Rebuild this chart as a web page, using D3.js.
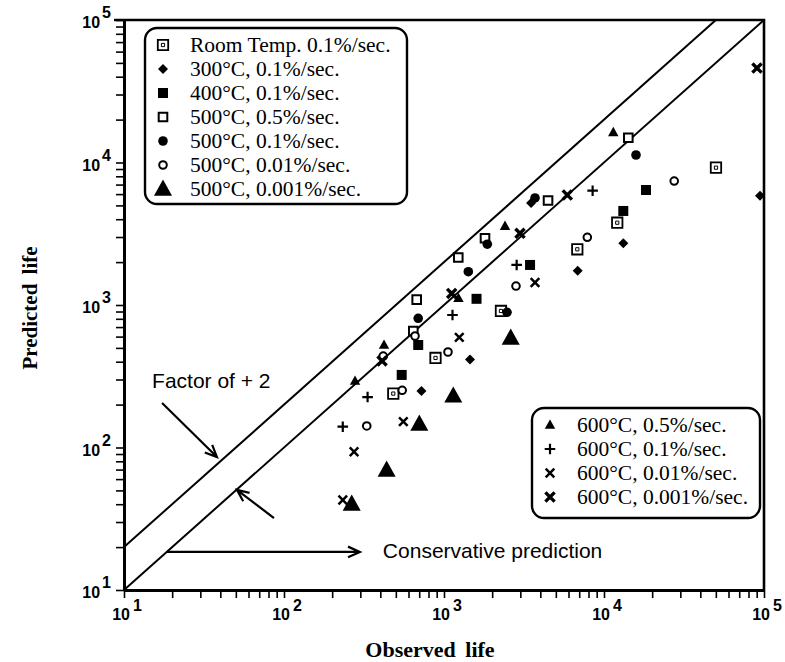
<!DOCTYPE html>
<html>
<head>
<meta charset="utf-8">
<script src="https://cdn.jsdelivr.net/npm/d3@7"></script>
<style>
  body { margin: 0; background: #fff; }
  .serif { font-family: "Liberation Serif", "Times New Roman", serif; }
  .sans { font-family: "Liberation Sans", Arial, Helvetica, sans-serif; }
</style>
</head>
<body>
<div id="chart-container"></div>
<script>
// log-log plot of predicted vs observed life
const svgWidth = 785;
const svgHeight = 662;
const margin = { top: 20, right: 21, bottom: 72, left: 124 };
const width = svgWidth - margin.left - margin.right;
const height = svgHeight - margin.top - margin.bottom;

// data: [observed, predicted]
const roomTemp   = [[50100, 9200], [12100, 3780], [6810, 2460], [2270, 908], [885, 425], [482, 239]];
const c300       = [[13200, 2710], [6850, 1740], [1454, 414], [723, 249], [94400, 5850], [3500, 5200]];
const c400       = [[18300, 6410], [13200, 4570], [3450, 1910], [1597, 1105], [690, 524], [544, 323]];
const c500r05    = [[14190, 14930], [4470, 5410], [1804, 2940], [1228, 2155], [675, 1090], [643, 657]];
const c500r01    = [[15850, 11290], [3705, 5640], [1865, 2670], [1419, 1713], [690, 807], [2476, 889]];
const c500r001   = [[27470, 7410], [7865, 2985], [2818, 1358], [1059, 468], [548, 252], [329, 141.6], [659, 606], [417, 438]];
const c500r0001  = [[2612, 586], [1143, 230], [701, 146], [438, 69.5], [265, 40.1]];
const c600r05    = [[11430, 16290], [2405, 3581], [1232, 1115], [422, 524], [278, 293]];
const c600r01    = [[8490, 6340], [2845, 1910], [1130, 851], [333, 226], [233, 140]];
const c600r001   = [[3705, 1439], [1246, 593], [557, 152], [274, 93.4], [233, 42.8]];
const c600r0001  = [[90400, 46000], [5897, 5915], [2985, 3185], [1117, 1205], [410, 405]];

const legendTop = ["Room Temp. 0.1%/sec.", "300°C, 0.1%/sec.", "400°C, 0.1%/sec.", "500°C, 0.5%/sec.",
                   "500°C, 0.1%/sec.", "500°C, 0.01%/sec.", "500°C, 0.001%/sec."];
const legendBottom = ["600°C, 0.5%/sec.", "600°C, 0.1%/sec.", "600°C, 0.01%/sec.", "600°C, 0.001%/sec."];

const decades = [10, 100, 1000, 10000, 100000];
const exponents = ["1", "2", "3", "4", "5"];

// reference lines: predicted = observed, predicted = 2 x observed
const lineEqual = [[10, 10], [100000, 100000]];
const lineFactor2 = [[10, 20], [50000, 100000]];

// annotation arrows (data coords, from -> to)
const arrowFactor1 = [[17.3, 205], [38.1, 85.7]];
const arrowFactor2 = [[86.6, 32], [50.8, 50.4]];
const arrowConservative = [[18.5, 18.5], [298, 18.5]];

const svg = d3.select("#chart-container")
  .append("svg")
  .attr("width", svgWidth)
  .attr("height", svgHeight)
  .append("g")
  .attr("transform", `translate(${margin.left},${margin.top})`);

const x = d3.scaleLog().domain([10, 100000]).range([0, width]);
const y = d3.scaleLog().domain([10, 100000]).range([height, 0]);

// custom symbol shapes, size = half extent
const shapes = {
  square:   { draw(c, r) { c.rect(-r, -r, 2 * r, 2 * r); } },
  circle:   { draw(c, r) { c.moveTo(r, 0); c.arc(0, 0, r, 0, 2 * Math.PI); } },
  diamond:  { draw(c, r) { c.moveTo(0, -r); c.lineTo(r, 0); c.lineTo(0, r); c.lineTo(-r, 0); c.closePath(); } },
  triangle: { draw(c, r) { c.moveTo(0, -r); c.lineTo(r * 0.95, r * 0.7); c.lineTo(-r * 0.95, r * 0.7); c.closePath(); } },
  plus:     { draw(c, r) { c.moveTo(-r, 0); c.lineTo(r, 0); c.moveTo(0, -r); c.lineTo(0, r); } },
  cross:    { draw(c, r) { c.moveTo(-r, -r); c.lineTo(r, r); c.moveTo(r, -r); c.lineTo(-r, r); } }
};

// style for each series (same order as legends)
const styles = [
  { shape: "square",   r: 5.2, fill: "#fff", stroke: 1.8, inner: true },
  { shape: "diamond",  r: 5,   fill: "#000", stroke: 0 },
  { shape: "square",   r: 5,   fill: "#000", stroke: 0 },
  { shape: "square",   r: 4.3, fill: "#fff", stroke: 2 },
  { shape: "circle",   r: 4.8, fill: "#000", stroke: 0 },
  { shape: "circle",   r: 3.8, fill: "#fff", stroke: 2 },
  { shape: "triangle", r: 9.5, fill: "#000", stroke: 0 },
  { shape: "triangle", r: 5.5, fill: "#000", stroke: 0 },
  { shape: "plus",     r: 5.3, fill: "none", stroke: 2.2 },
  { shape: "cross",    r: 4.3, fill: "none", stroke: 2.5 },
  { shape: "cross",    r: 4.6, fill: "none", stroke: 3.4, dot: true }
];
const allSeries = [roomTemp, c300, c400, c500r05, c500r01, c500r001, c500r0001,
                   c600r05, c600r01, c600r001, c600r0001];

function drawMarker(g, st) {
  g.append("path")
    .attr("d", d3.symbol().type(shapes[st.shape]).size(st.r)())
    .attr("fill", st.fill)
    .attr("stroke", st.stroke ? "#000" : "none")
    .attr("stroke-width", st.stroke);
  if (st.inner) {
    g.append("path")
      .attr("d", d3.symbol().type(shapes.square).size(1.6)())
      .attr("fill", "none").attr("stroke", "#000").attr("stroke-width", 1);
  }
  if (st.dot) {
    g.append("path")
      .attr("d", d3.symbol().type(shapes.diamond).size(2.6)())
      .attr("fill", "#000");
  }
}

// axes
const xAxis = svg.append("g")
  .attr("transform", `translate(0,${height})`)
  .call(d3.axisBottom(x).tickValues(x.ticks()).tickSize(8).tickSizeOuter(0).tickFormat(""));
const yAxis = svg.append("g")
  .call(d3.axisLeft(y).tickValues(y.ticks()).tickSize(8).tickSizeOuter(0).tickFormat(""));
[xAxis, yAxis].forEach(a => {
  a.select(".domain").attr("stroke-width", 3);
  a.selectAll(".tick line").attr("stroke-width", 1.6);
});

// top and right frame
svg.append("path")
  .attr("d", `M${x(10) - 10},${y(100000)}H${x(100000)}V${y(10)}`)
  .attr("fill", "none").attr("stroke", "#000").attr("stroke-width", 2.6);

// tick labels with superscripts
const xl = svg.append("g").attr("class", "sans").attr("font-size", 16).attr("font-weight", "bold");
decades.forEach((d, i) => {
  const t = xl.append("text").attr("x", x(d) + 3).attr("y", height + 30).attr("text-anchor", "middle");
  t.append("tspan").text("10");
  t.append("tspan").attr("dx", 3).attr("dy", -9).text(exponents[i]);
});
const yl = svg.append("g").attr("class", "sans").attr("font-size", 16).attr("font-weight", "bold");
decades.forEach((d, i) => {
  const t = yl.append("text").attr("x", -13).attr("y", y(d) + 8).attr("text-anchor", "end");
  t.append("tspan").text("10");
  t.append("tspan").attr("dx", 2).attr("dy", -10).text(exponents[i]);
});

// axis titles
svg.append("text")
  .attr("class", "serif")
  .attr("font-size", 22).attr("font-weight", "bold").attr("word-spacing", 4)
  .attr("text-anchor", "middle")
  .attr("x", 306).attr("y", height + 67)
  .text("Observed life");
svg.append("text")
  .attr("class", "serif")
  .attr("font-size", 21).attr("font-weight", "bold").attr("word-spacing", 4)
  .attr("text-anchor", "middle")
  .attr("transform", `translate(${-87},${height / 2 + 3}) rotate(-90)`)
  .text("Predicted life");

// reference lines
const line = d3.line().x(d => x(d[0])).y(d => y(d[1]));
[lineEqual, lineFactor2].forEach(l => {
  svg.append("path").attr("d", line(l)).attr("fill", "none").attr("stroke", "#000").attr("stroke-width", 2);
});

// arrows with open heads
function arrow(pts) {
  const x1 = x(pts[0][0]), y1 = y(pts[0][1]), x2 = x(pts[1][0]), y2 = y(pts[1][1]);
  const ang = Math.atan2(y2 - y1, x2 - x1);
  const len = 13, spread = 0.42;
  svg.append("path")
    .attr("d", `M${x1},${y1}L${x2},${y2}` +
      `M${x2 - len * Math.cos(ang - spread)},${y2 - len * Math.sin(ang - spread)}L${x2},${y2}` +
      `L${x2 - len * Math.cos(ang + spread)},${y2 - len * Math.sin(ang + spread)}`)
    .attr("fill", "none").attr("stroke", "#000").attr("stroke-width", 2.2);
}
arrow(arrowFactor1);
arrow(arrowFactor2);
arrow(arrowConservative);

svg.append("text").attr("class", "sans").attr("font-size", 21)
  .attr("x", x(17.3) - 10).attr("y", y(205) - 15)
  .text("Factor of + 2");
svg.append("text").attr("class", "sans").attr("font-size", 21)
  .attr("x", x(298) + 23).attr("y", y(18.5) + 6)
  .text("Conservative prediction");

// points
allSeries.forEach((s, i) => {
  s.forEach(d => {
    const g = svg.append("g").attr("transform", `translate(${x(d[0])},${y(d[1])})`);
    drawMarker(g, styles[i]);
  });
});

// legends
function legend(x0, y0, w, h, labels, offset) {
  const lg = svg.append("g").attr("transform", `translate(${x0},${y0})`);
  lg.append("rect").attr("width", w).attr("height", h).attr("rx", 12)
    .attr("fill", "#fff").attr("stroke", "#000").attr("stroke-width", 2.4);
  labels.forEach((lab, i) => {
    const ry = 17 + i * 24;
    const g = lg.append("g").attr("transform", `translate(18,${ry})`);
    drawMarker(g, styles[offset + i]);
    lg.append("text").attr("class", "serif").attr("font-size", 21.5)
      .attr("x", 45).attr("y", ry + 7).text(lab);
  });
}
legend(145 - margin.left, 28 - margin.top, 262, 176, legendTop, 0);
legend(532 - margin.left, 408 - margin.top, 228, 110, legendBottom, 7);
</script>
</body>
</html>
